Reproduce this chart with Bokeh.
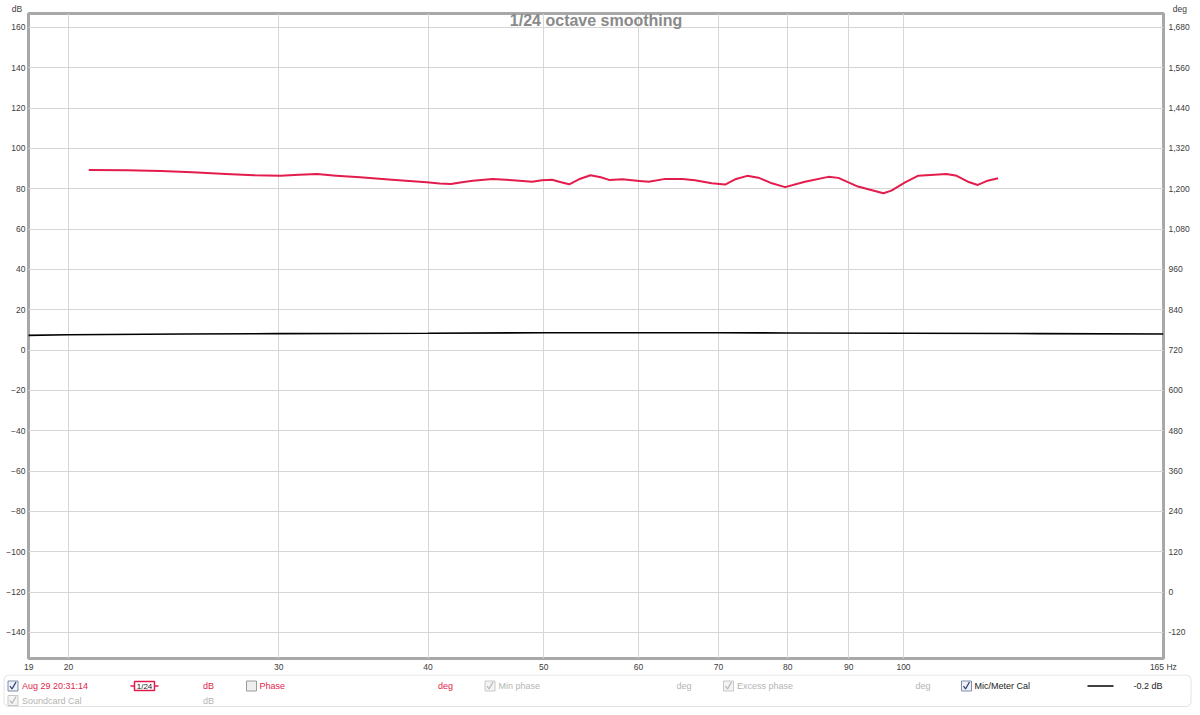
from bokeh.plotting import figure
from bokeh.models import (Range1d, LinearAxis, LogAxis, FixedTicker, NumeralTickFormatter,
                          Label, BoxAnnotation)
from bokeh.layouts import column, row
from bokeh.core.properties import value
from bokeh.embed import file_html
from bokeh.resources import INLINE

# ---------------- data ----------------
meas_freq = [20.8, 22.4, 23.9, 25.4, 27.1, 28.6, 30.1, 31.2, 32.3, 33.5, 35.1, 37.3,
             39.9, 40.9, 41.8, 42.7, 43.6, 45.3, 47.1, 48.9, 49.8, 50.8, 51.5, 52.5,
             53.5, 54.7, 55.8, 56.7, 58.2, 60.1, 61.2, 63.2, 65.3, 66.9, 69.1, 70.9,
             72.3, 74.0, 75.6, 77.6, 79.6, 82.7, 86.5, 88.2, 91.6, 96.2, 97.7, 100.3,
             102.9, 108.6, 110.8, 113.2, 115.4, 117.6, 120.0]
meas_db = [89.3, 89.2, 88.8, 88.2, 87.3, 86.7, 86.5, 87.0, 87.3, 86.5, 85.7, 84.5,
           83.2, 82.6, 82.4, 83.2, 84.0, 84.9, 84.2, 83.5, 84.2, 84.5, 83.5, 82.2,
           84.7, 86.7, 85.7, 84.4, 84.7, 83.9, 83.5, 84.9, 84.9, 84.2, 82.7, 82.1,
           84.7, 86.4, 85.5, 82.7, 80.8, 83.5, 85.9, 85.4, 81.1, 77.8, 79.1, 83.2,
           86.5, 87.3, 86.4, 83.5, 81.9, 84.0, 85.2]

cal_freq = [18.5, 20, 25, 30, 40, 50, 60, 70, 80, 100, 130, 165]
cal_db = [7.3, 7.6, 8.0, 8.2, 8.4, 8.6, 8.6, 8.6, 8.5, 8.4, 8.2, 8.0]

x_tick_values = [18.53, 20, 30, 40, 50, 60, 70, 80, 90, 100, 165]
x_tick_labels = ["19", "20", "30", "40", "50", "60", "70", "80", "90", "100", "165 Hz"]
x_grid_values = [20, 30, 40, 50, 60, 70, 80, 90, 100]
db_ticks = list(range(-140, 161, 20))
deg_ticks = list(range(-120, 1681, 120))

title_text = "1/24 octave smoothing"
NB = "\u00a0"
unit_left = "dB" + NB * 10
unit_right = NB * 14 + "deg"

RED = "#e31c4c"
GRID = "#d6d6d6"
FRAME = "#a8a8a8"
TICK = "#3c3c3c"
GRAYTXT = "#b4b4b4"
FONT = "Liberation Sans"
TSIZE = "8.5px"

X0, X1 = 18.52, 165.05
Y0, Y1 = -152.9, 166.9

# ---------------- main chart ----------------
p = figure(width=1192, height=674, x_axis_type="log",
           x_range=Range1d(X0, X1), y_range=Range1d(Y0, Y1),
           output_backend="svg", toolbar_location=None, title=None,
           min_border_left=28, min_border_right=27, min_border_top=10, min_border_bottom=13,
           background_fill_color="white", border_fill_color="white")
p.outline_line_color = FRAME
p.outline_line_width = 3

p.extra_y_ranges = {"deg": Range1d(720 + 6 * Y0, 720 + 6 * Y1)}


def style_axis(ax, standoff):
    ax.major_tick_in = 0
    ax.major_tick_out = 0
    ax.minor_tick_in = 0
    ax.minor_tick_out = 0
    ax.axis_line_color = None
    ax.major_label_text_font = FONT
    ax.major_label_text_font_size = TSIZE
    ax.major_label_text_color = TICK
    ax.major_label_standoff = standoff


p.xaxis[0].ticker = FixedTicker(ticks=x_tick_values)
p.xaxis[0].major_label_overrides = {v: l for v, l in zip(x_tick_values, x_tick_labels)}
style_axis(p.xaxis[0], 3)
p.yaxis[0].ticker = FixedTicker(ticks=db_ticks)
style_axis(p.yaxis[0], 3)

rax = LinearAxis(y_range_name="deg", ticker=FixedTicker(ticks=deg_ticks),
                 formatter=NumeralTickFormatter(format="0,0"))
style_axis(rax, 5)
p.add_layout(rax, "right")

tax = LogAxis(ticker=FixedTicker(ticks=[18.53, 165]),
              major_label_overrides={18.53: unit_left, 165: unit_right})
style_axis(tax, 0)
p.add_layout(tax, "above")

p.xgrid.ticker = FixedTicker(ticks=x_grid_values)
p.ygrid.ticker = FixedTicker(ticks=db_ticks)
p.grid.grid_line_color = GRID
p.grid.grid_line_width = 1

p.line(cal_freq, cal_db, line_color="black", line_width=1.6)
p.line(meas_freq, meas_db, line_color=RED, line_width=2.0, line_join="round")

p.add_layout(Label(x=55.3, y=163.6, text=title_text,
                   text_align="center", text_baseline="middle",
                   text_font=FONT, text_font_size="16px", text_font_style="bold",
                   text_color="#8a8a8a"))

# ---------------- legend panel ----------------
LH = 33
lg = figure(width=1192, height=LH, x_range=Range1d(0, 1192), y_range=Range1d(0, LH),
            output_backend="svg", toolbar_location=None, title=None,
            x_axis_location=None, y_axis_location=None,
            min_border=0, min_border_left=0, min_border_right=0,
            min_border_top=0, min_border_bottom=0,
            background_fill_color="white", border_fill_color="white")
lg.grid.visible = False
lg.outline_line_color = None


def Y(py):
    return 674 + LH - py


lg.add_layout(BoxAnnotation(left=3.5, right=1190.5, top=Y(674.5), bottom=Y(706),
                            fill_color=None, fill_alpha=0, level="underlay",
                            line_color="#a0a0a0", line_width=1, border_radius=5))

R1 = Y(685.5)
R2 = Y(700)
cb_x = [12.5, 12.5, 251, 489.5, 728, 966]
cb_y = [R1, R2, R1, R1, R1, R1]
cb_line = ["#7f8ca8", "#c8c8c8", "#9a9a9a", "#c8c8c8", "#c8c8c8", "#7f8ca8"]
cb_fill = ["#eef2f8", "#f4f4f4", "#eeeeee", "#f4f4f4", "#f4f4f4", "#eef2f8"]
lg.rect(x=cb_x, y=cb_y, width=10, height=10, fill_color=cb_fill, line_color=cb_line,
        line_width=1)

chk_x = [12.5, 12.5, 489.5, 728, 966]
chk_y = [R1, R2, R1, R1, R1]
chk_col = ["#34407a", "#b8b8b8", "#b8b8b8", "#b8b8b8", "#34407a"]
xs = [[cx - 3, cx - 1, cx + 3] for cx in chk_x]
ys = [[cy, cy - 3, cy + 4] for cy in chk_y]
lg.multi_line(xs=xs, ys=ys, line_color=chk_col, line_width=1.3)

lg.segment(x0=[130], y0=[R1], x1=[158], y1=[R1], line_color=RED, line_width=1.5)
lg.rect(x=[144], y=[R1], width=20, height=9, fill_color="white", line_color=RED, line_width=1.5)
lg.text(x=[144], y=[R1], text=["1/24"], text_align="center", text_baseline="middle",
        text_font=value(FONT), text_font_size="8px", text_color="#222222")

lg.segment(x0=[1087], y0=[R1], x1=[1113], y1=[R1], line_color="black", line_width=1.6)

groups = [
    (RED, "left", ["Aug 29 20:31:14", "Phase"], [21.5, 259], [R1, R1]),
    (RED, "center", ["dB", "deg"], [208, 445], [R1, R1]),
    (GRAYTXT, "left", ["Min phase", "Excess phase", "Soundcard Cal"], [498, 736.5, 21.5], [R1, R1, R2]),
    (GRAYTXT, "center", ["deg", "deg", "dB"], [683.5, 922.5, 208], [R1, R1, R2]),
    ("#222222", "left", ["Mic/Meter Cal", "-0.2 dB"], [974, 1133], [R1, R1]),
]
for col, al, texts, gx, gy in groups:
    lg.text(x=gx, y=gy, text=texts, text_align=al, text_color=col,
            text_baseline="middle", text_font=value(FONT), text_font_size="9px")

layout = column(p, row(lg), spacing=0)
open("out.html", "w").write(file_html(layout, INLINE))
